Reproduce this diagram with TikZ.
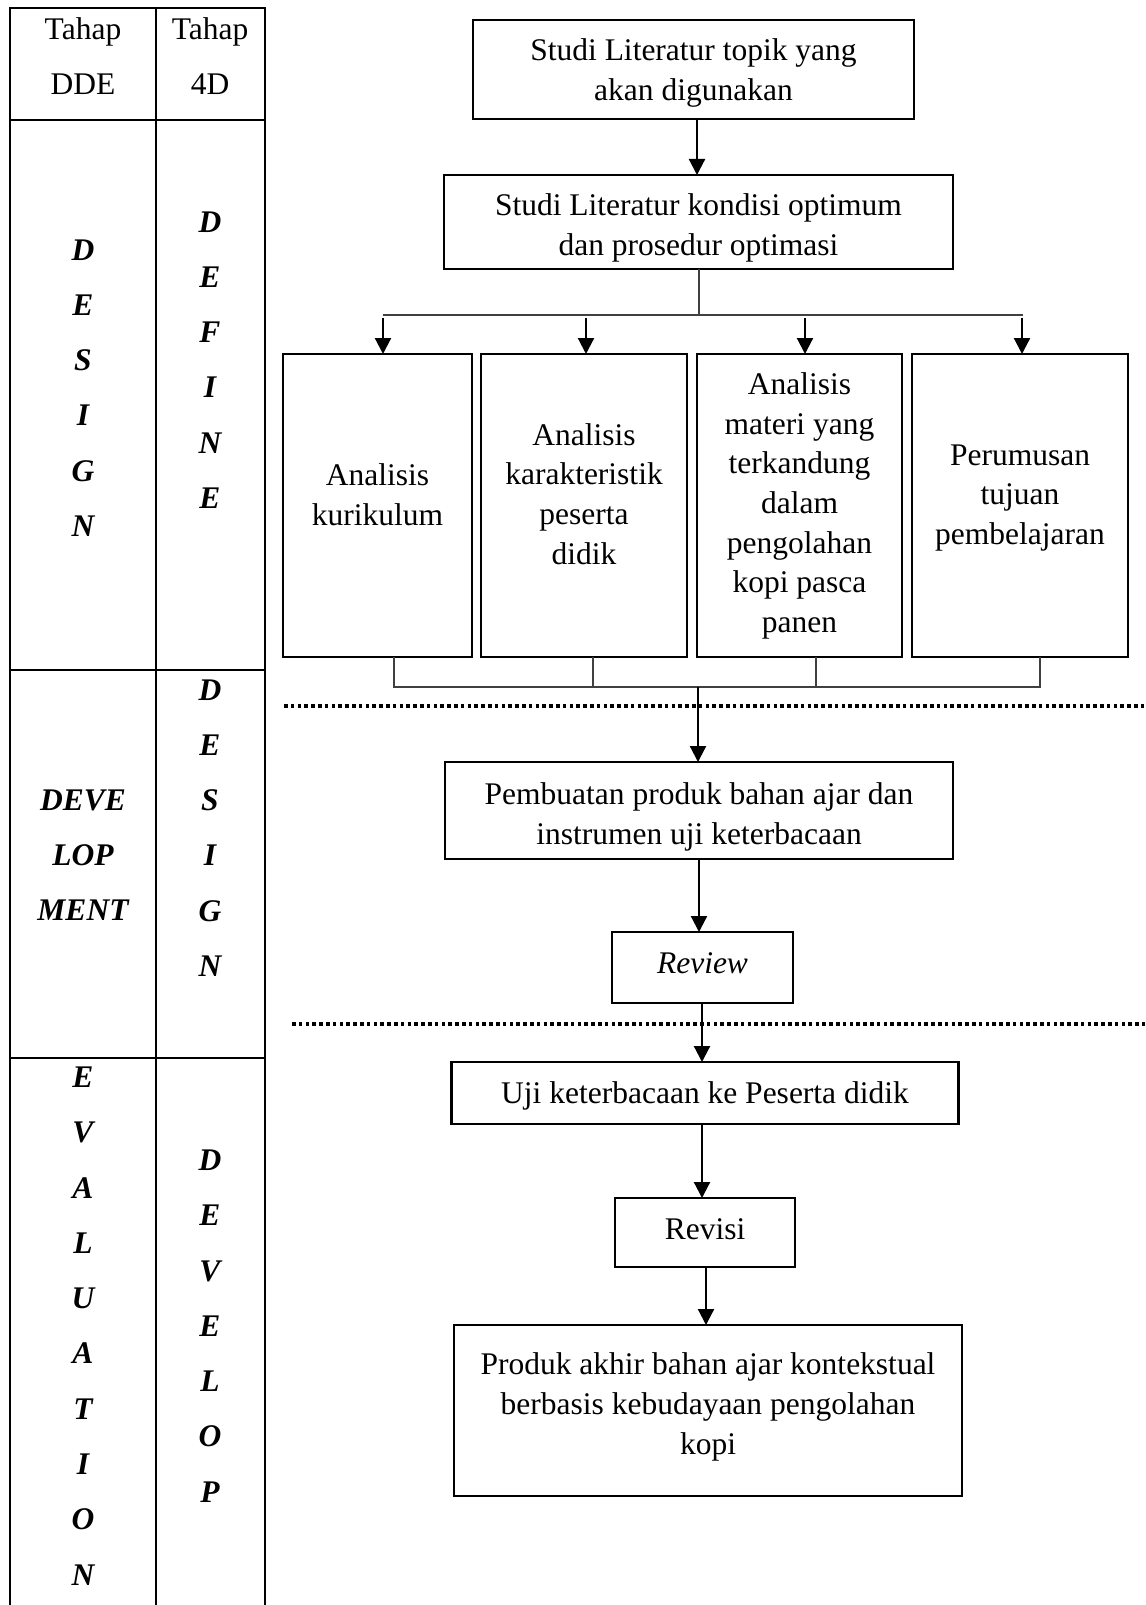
\documentclass[tikz,border=0pt]{standalone}
\usepackage{fontspec}
\setmainfont{Liberation Serif}
\usetikzlibrary{arrows.meta,calc}
\begin{document}
\begin{tikzpicture}[x=1pt,y=-1pt,
  every node/.style={font=\fontsize{31.5}{39.7}\selectfont, outer sep=0pt, inner sep=2pt, align=center},
  box/.style={draw, line width=2.3pt},
  tbl/.style={line width=2.3pt},
  thinline/.style={line width=1.3pt, draw=black!75},
  arr/.style={line width=2.2pt, -{Triangle[length=16pt,width=16pt]}},
  dots/.style={line width=4pt, dash pattern=on 3.6pt off 3.2pt},
  col/.style={font=\fontsize{31.5}{55.3}\selectfont\bfseries\itshape},
  head/.style={font=\fontsize{31.5}{55}\selectfont}
]
\useasboundingbox (0,0) rectangle (1145,1605);
\fill[white] (0,0) rectangle (1145,1605);

% ---- left table ----
\draw[tbl] (10,1605) -- (10,8) -- (265,8) -- (265,1605);
\draw[tbl] (156,8) -- (156,1605);
\draw[tbl] (10,120) -- (265,120);
\draw[tbl] (10,670) -- (265,670);
\draw[tbl] (10,1058) -- (265,1058);

\node[head] (h1) at (83,56) {Tahap\\DDE};
\node[head] (h2) at (210,56) {Tahap\\4D};
\node[col] (c1a) at (83,388) {D\\E\\S\\I\\G\\N};
\node[col] (c2a) at (210,360) {D\\E\\F\\I\\N\\E};
\node[col] (c1b) at (83,855) {DEVE\\LOP\\MENT};
\node[col] (c2b) at (210,828) {D\\E\\S\\I\\G\\N};
\node[col] (c1c) at (83,1326) {E\\V\\A\\L\\U\\A\\T\\I\\O\\N};
\node[col] (c2c) at (210,1326) {D\\E\\V\\E\\L\\O\\P};

% ---- flow boxes ----
\node[box, minimum width=441pt, minimum height=99pt] (s1) at (693.5,69.5) {};
\node (s1t) at (693.5,73) {Studi Literatur topik yang\\akan digunakan};
\node[box, minimum width=509pt, minimum height=94pt] (s2) at (698.5,222) {};
\node (s2t) at (698.5,228) {Studi Literatur kondisi optimum\\dan prosedur optimasi};

\node[box, minimum width=189pt, minimum height=303pt] (a) at (377.5,505.5) {};
\node (at) at (377.5,495) {Analisis\\kurikulum};
\node[box, minimum width=206pt, minimum height=303pt] (b) at (584,505.5) {};
\node (bt) at (584,494) {Analisis\\karakteristik\\peserta\\didik};
\node[box, minimum width=205pt, minimum height=303pt] (c) at (799.5,505.5) {};
\node (ct) at (799.5,506) {Analisis\\materi yang\\terkandung\\dalam\\pengolahan\\kopi pasca\\panen};
\node[box, minimum width=216pt, minimum height=303pt] (d) at (1020,505.5) {};
\node (dt) at (1020,498) {Perumusan\\tujuan\\pembelajaran};

\node[box, minimum width=508pt, minimum height=97pt] (p) at (699,810.5) {};
\node (pt) at (699,817) {Pembuatan produk bahan ajar dan\\instrumen uji keterbacaan};
\node[box, minimum width=181pt, minimum height=71pt] (r) at (702.5,967.5) {};
\node (rt) at (702.5,963) {\itshape Review};
\node[box, minimum width=507pt, minimum height=62pt] (u) at (705,1093) {};
\node (ut) at (705,1096) {Uji keterbacaan ke Peserta didik};
\node[box, minimum width=180pt, minimum height=69pt] (v) at (705,1232.5) {};
\node (vt) at (705,1229) {Revisi};
\node[box, minimum width=508pt, minimum height=171pt] (f) at (708,1410.5) {};
\node (ft) at (708,1407) {Produk akhir bahan ajar kontekstual\\berbasis kebudayaan pengolahan\\kopi};

% ---- connectors ----
\draw[arr] (s1.south -| 697,0) -- (s2.north -| 697,0);

\coordinate (j1) at (699,315);
\coordinate (bl) at (383,315);
\coordinate (br) at (1023,315);
\draw[thinline] (s2.south -| j1) -- (j1);
\draw[thinline] (bl) -- (br);
\coordinate (ta) at (383,318);
\coordinate (tb) at (586,318);
\coordinate (tc) at (805,318);
\coordinate (td) at (1022,318);
\draw[arr] (ta) -- (ta |- a.north);
\draw[arr] (tb) -- (tb |- b.north);
\draw[arr] (tc) -- (tc |- c.north);
\draw[arr] (td) -- (td |- d.north);

\coordinate (ka) at (394,687);
\coordinate (kb) at (593,687);
\coordinate (kc) at (816,687);
\coordinate (kd) at (1040,687);
\draw[thinline] (a.south -| ka) -- (ka) -- (kd) -- (d.south -| kd);
\draw[thinline] (b.south -| kb) -- (kb);
\draw[thinline] (c.south -| kc) -- (kc);
\coordinate (km) at (698,687);
\draw[arr] (km) -- (km |- p.north);

\draw[arr] (p.south -| 699,0) -- (r.north -| 699,0);
\draw[arr] (r.south -| 702,0) -- (u.north -| 702,0);
\draw[arr] (u.south -| 702,0) -- (v.north -| 702,0);
\draw[arr] (v.south -| 706,0) -- (f.north -| 706,0);

% ---- dotted separators ----
\coordinate (d1l) at (284,706);
\coordinate (d1r) at (1145,706);
\coordinate (d2l) at (292,1024);
\coordinate (d2r) at (1145,1024);
\draw[dots] (d1l) -- (d1r);
\draw[dots] (d2l) -- (d2r);
\end{tikzpicture}
\end{document}
